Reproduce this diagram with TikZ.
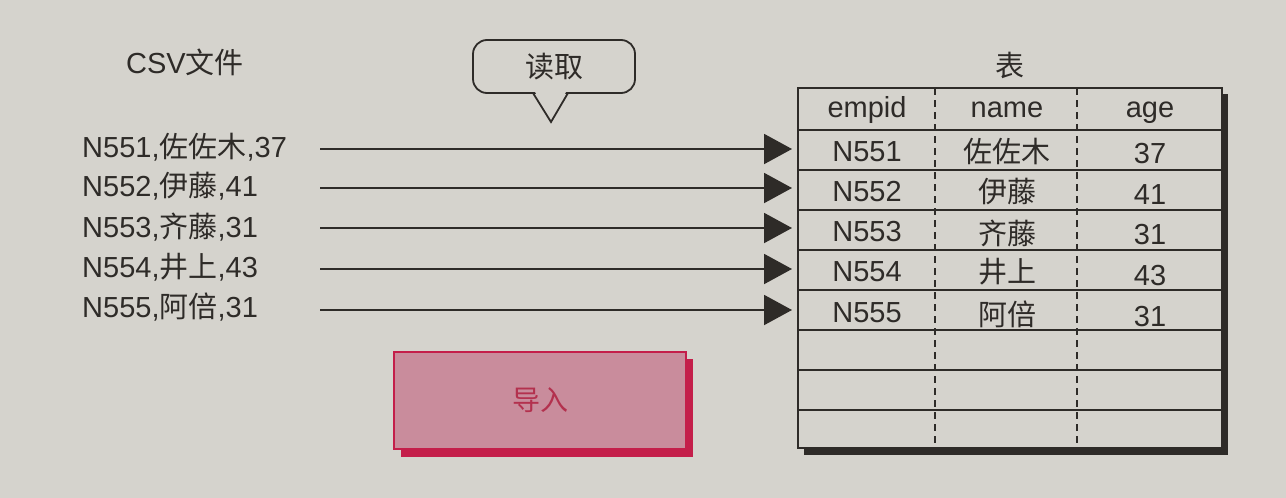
\documentclass[tikz,border=0pt]{standalone}
\usepackage{fontspec}
\setmainfont{Liberation Sans}
\newfontfamily\cjk{Noto Sans CJK SC}
\usetikzlibrary{arrows.meta}
\definecolor{bg}{HTML}{D5D3CD}
\definecolor{ink}{HTML}{2E2B28}
\definecolor{pinkfill}{HTML}{C98C9C}
\definecolor{crimson}{HTML}{C41E4A}
\definecolor{pinktext}{HTML}{B3314E}
\newcommand{\zh}[1]{{\cjk #1}}
\tikzset{
  txt/.style={font=\fontsize{29}{32}\selectfont, text=ink, inner sep=0pt},
  csvline/.style={txt, anchor=west},
  cell/.style={txt, anchor=center},
  rowbox/.style={minimum width=424pt, minimum height=40pt, inner sep=0pt},
  arr/.style={draw=ink, line width=2pt, -{Triangle[length=28pt,width=30pt]}},
  rule/.style={draw=ink, line width=1.8pt},
  colsep/.style={draw=ink, line width=2.2pt, dash pattern=on 7pt off 5pt},
}
\begin{document}
\begin{tikzpicture}[x=1pt,y=-1pt]
\fill[bg] (0,0) rectangle (1286,498);
\useasboundingbox (0,0) rectangle (1286,498);

% titles
\node[txt] (csvtitle) at (185,62) {CSV\zh{文件}};
\node[txt] (tabtitle) at (1010,65) {\zh{表}};

% callout
\node[txt, draw=ink, line width=1.8pt, rounded corners=14pt, fill=bg,
      minimum width=162pt, minimum height=53pt] (read) at (554,66.5) {\zh{读取}};
\fill[bg] (534,90) -- (551,121) -- (567,90) -- cycle;
\draw[ink, line width=1.8pt, line join=miter] (533,93) -- (551,122) -- (568,93);

% import box
\fill[crimson] (401,359) rectangle (693,457);
\node[draw=crimson, fill=pinkfill, line width=2pt, minimum width=292pt, minimum height=97pt,
      font=\fontsize{28}{30}\selectfont\cjk, text=pinktext] (import) at (540,400.5) {导入};

% CSV lines
\node[csvline] (l1) at (82,147) {N551,\zh{佐佐木},37};
\node[csvline] (l2) at (82,186) {N552,\zh{伊藤},41};
\node[csvline] (l3) at (82,227) {N553,\zh{齐藤},31};
\node[csvline] (l4) at (82,267) {N554,\zh{井上},43};
\node[csvline] (l5) at (82,307) {N555,\zh{阿倍},31};

% table
\fill[ink] (804,94) rectangle (1228,455);
\fill[bg] (798,88) rectangle (1222,448);
\node[rowbox] (hdr) at (1010,109) {};
\foreach \i/\y in {1/150,2/190,3/230,4/270,5/310,6/350,7/390,8/429}
  \node[rowbox] (row\i) at (1010,\y) {};
\foreach \y in {130,170,210,250,290,330,370,410}
  \draw[rule] (798,\y) -- (1222,\y);
\draw[colsep] (935,88) -- (935,448);
\draw[colsep] (1077,88) -- (1077,448);
\draw[ink, line width=2.5pt] (798,88) rectangle (1222,448);

\node[cell] (h1) at (867,110) {empid};
\node[cell] (h2) at (1007,110) {name};
\node[cell] (h3) at (1150,113) {age};

\node[cell] (a1) at (867,152) {N551};
\node[cell] (b1) at (1007,151) {\zh{佐佐木}};
\node[cell] (c1) at (1150,154) {37};
\node[cell] (a2) at (867,192) {N552};
\node[cell] (b2) at (1007,192) {\zh{伊藤}};
\node[cell] (c2) at (1150,195) {41};
\node[cell] (a3) at (867,232) {N553};
\node[cell] (b3) at (1007,233) {\zh{齐藤}};
\node[cell] (c3) at (1150,235) {31};
\node[cell] (a4) at (867,272) {N554};
\node[cell] (b4) at (1007,272) {\zh{井上}};
\node[cell] (c4) at (1150,276) {43};
\node[cell] (a5) at (867,313) {N555};
\node[cell] (b5) at (1007,314) {\zh{阿倍}};
\node[cell] (c5) at (1150,317) {31};

% arrows
\foreach \i/\y in {1/149,2/188,3/228,4/269,5/310}{
  \coordinate (s\i) at (320,\y);
  \coordinate (e\i) at (792,\y);
  \draw[arr] (s\i) -- (e\i);
}
\end{tikzpicture}
\end{document}
